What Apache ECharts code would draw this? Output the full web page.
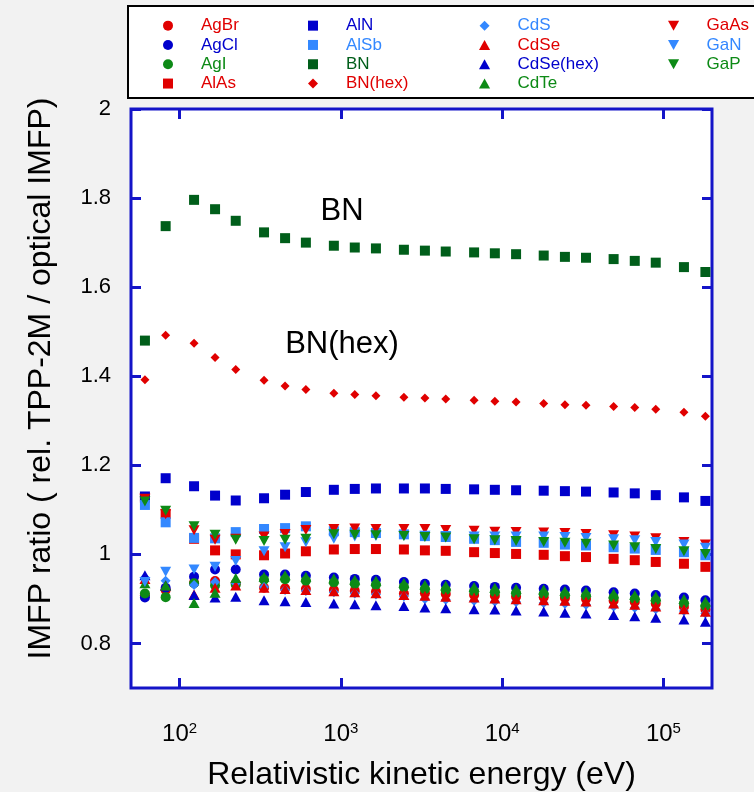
<!DOCTYPE html>
<html><head><meta charset="utf-8">
<script src="https://cdn.jsdelivr.net/npm/echarts@6/dist/echarts.min.js"></script>
<style>html,body{margin:0;padding:0;background:#f2f2f2}#c{width:754px;height:792px}</style>
</head><body><div id="c"></div>
<script>
// ---- data ----
const energy = [61, 82, 123, 166, 223, 334, 451, 607, 905, 1220, 1650, 2460, 3320, 4470, 6700, 9010, 12200, 18100, 24500, 33100, 49100, 66400, 89600, 134000, 182000];
const AgBr = [0.908, 0.920, 0.936, 0.940, 0.935, 0.925, 0.924, 0.922, 0.920, 0.918, 0.916, 0.912, 0.913, 0.911, 0.909, 0.907, 0.905, 0.904, 0.902, 0.900, 0.896, 0.893, 0.889, 0.882, 0.876];
const AgCl = [0.903, 0.925, 0.950, 0.966, 0.966, 0.955, 0.955, 0.952, 0.948, 0.945, 0.943, 0.938, 0.934, 0.932, 0.929, 0.927, 0.925, 0.923, 0.921, 0.919, 0.915, 0.912, 0.909, 0.903, 0.897];
const AgI = [0.912, 0.904, 0.935, 0.930, 0.932, 0.943, 0.944, 0.941, 0.937, 0.934, 0.932, 0.927, 0.922, 0.920, 0.917, 0.915, 0.913, 0.911, 0.909, 0.907, 0.903, 0.900, 0.897, 0.890, 0.884];
const AlAs = [1.127, 1.091, 1.035, 1.009, 1.000, 0.998, 1.002, 1.007, 1.011, 1.012, 1.012, 1.011, 1.009, 1.008, 1.005, 1.003, 1.001, 0.999, 0.996, 0.994, 0.990, 0.987, 0.983, 0.979, 0.972];
const AlN = [1.130, 1.171, 1.153, 1.132, 1.121, 1.126, 1.134, 1.140, 1.145, 1.147, 1.148, 1.148, 1.148, 1.147, 1.146, 1.145, 1.144, 1.143, 1.142, 1.141, 1.139, 1.137, 1.133, 1.128, 1.120];
const AlSb = [1.111, 1.072, 1.037, 1.036, 1.050, 1.057, 1.059, 1.063, 1.052, 1.050, 1.048, 1.045, 1.041, 1.039, 1.035, 1.032, 1.028, 1.026, 1.022, 1.020, 1.016, 1.013, 1.010, 1.005, 0.998];
const BN = [1.480, 1.737, 1.796, 1.775, 1.749, 1.723, 1.710, 1.700, 1.693, 1.689, 1.687, 1.684, 1.682, 1.680, 1.678, 1.676, 1.674, 1.671, 1.668, 1.666, 1.663, 1.659, 1.655, 1.645, 1.634];
const BNhex = [1.392, 1.492, 1.474, 1.442, 1.415, 1.391, 1.378, 1.370, 1.362, 1.359, 1.356, 1.353, 1.351, 1.349, 1.346, 1.344, 1.342, 1.339, 1.336, 1.335, 1.332, 1.330, 1.326, 1.319, 1.310];
const CdS = [0.948, 0.941, 0.931, 0.938, 0.935, 0.927, 0.920, 0.918, 0.915, 0.912, 0.910, 0.906, 0.900, 0.898, 0.896, 0.894, 0.893, 0.891, 0.889, 0.887, 0.883, 0.880, 0.877, 0.873, 0.867];
const CdSe = [0.945, 0.930, 0.910, 0.925, 0.930, 0.925, 0.922, 0.920, 0.917, 0.915, 0.913, 0.909, 0.907, 0.905, 0.903, 0.901, 0.899, 0.897, 0.896, 0.894, 0.890, 0.887, 0.883, 0.877, 0.871];
const CdSehex = [0.953, 0.930, 0.909, 0.903, 0.905, 0.897, 0.895, 0.893, 0.890, 0.888, 0.886, 0.884, 0.881, 0.879, 0.877, 0.876, 0.874, 0.872, 0.869, 0.867, 0.864, 0.861, 0.858, 0.854, 0.849];
const CdTe = [0.935, 0.930, 0.891, 0.914, 0.947, 0.950, 0.953, 0.950, 0.946, 0.943, 0.941, 0.936, 0.932, 0.930, 0.927, 0.925, 0.923, 0.921, 0.918, 0.916, 0.912, 0.909, 0.906, 0.900, 0.894];
const GaAs = [1.125, 1.090, 1.054, 1.033, 1.035, 1.040, 1.046, 1.055, 1.057, 1.058, 1.057, 1.057, 1.057, 1.055, 1.053, 1.051, 1.050, 1.049, 1.048, 1.046, 1.043, 1.040, 1.036, 1.028, 1.022];
const GaN = [0.938, 0.961, 0.966, 0.972, 0.985, 1.007, 1.016, 1.027, 1.035, 1.040, 1.041, 1.042, 1.042, 1.041, 1.040, 1.040, 1.040, 1.040, 1.039, 1.037, 1.034, 1.032, 1.028, 1.022, 1.015];
const GaP = [1.119, 1.098, 1.063, 1.044, 1.033, 1.030, 1.033, 1.035, 1.045, 1.044, 1.043, 1.041, 1.039, 1.038, 1.034, 1.032, 1.030, 1.028, 1.026, 1.024, 1.020, 1.016, 1.012, 1.007, 1.001];
const yTicks = [0.8, 1, 1.2, 1.4, 1.6, 1.8, 2];
const xTicks = [100, 1000, 10000, 100000];

// ---- styling ----
const RED = '#e00000', BLUE = '#0000cc', GREEN = '#0d8a16', DKGREEN = '#005e1a', LBLUE = '#3388ff';
const FRAME = '#1414c8';
const DOWN = 'path://M0,0L12,0L6,10Z';
const ICON = {
  circle: 'path://M5,0A5,5,0,1,1,5,10A5,5,0,1,1,5,0Z',
  rect: 'path://M0,0L10,0L10,10L0,10Z',
  diamond: 'path://M5,0L10,5L5,10L0,5Z',
  triangle: 'path://M5,0L10,9L0,9Z',
  down: 'path://M0,0L10,0L5,9Z'
};
const defs = [
  ['AgBr', AgBr, 'circle', 10, RED],
  ['AgCl', AgCl, 'circle', 10, BLUE],
  ['AgI', AgI, 'circle', 10, GREEN],
  ['AlAs', AlAs, 'rect', 10, RED],
  ['AlN', AlN, 'rect', 10, BLUE],
  ['AlSb', AlSb, 'rect', 10, LBLUE],
  ['BN', BN, 'rect', 10, DKGREEN],
  ['BN(hex)', BNhex, 'diamond', 9, RED],
  ['CdS', CdS, 'diamond', 10, LBLUE],
  ['CdSe', CdSe, 'triangle', [11, 10], RED],
  ['CdSe(hex)', CdSehex, 'triangle', [11, 10], BLUE],
  ['CdTe', CdTe, 'triangle', [11, 10], GREEN],
  ['GaAs', GaAs, 'down', [11, 10], RED],
  ['GaN', GaN, 'down', [11, 10], LBLUE],
  ['GaP', GaP, 'down', [11, 10], GREEN]
];
const info = {};
defs.forEach(d => info[d[0]] = d);

const series = defs.map(d => ({
  name: d[0], type: 'scatter',
  symbol: d[2] === 'down' ? DOWN : d[2],
  symbolSize: d[3],
  itemStyle: { color: d[4], opacity: 1 },
  emphasis: { disabled: true },
  silent: true,
  data: energy.map((e, i) => [e, d[1][i]])
}));

const cols = [['AgBr', 'AgCl', 'AgI', 'AlAs'], ['AlN', 'AlSb', 'BN', 'BN(hex)'], ['CdS', 'CdSe', 'CdSe(hex)', 'CdTe'], ['GaAs', 'GaN', 'GaP']];
const legLeft = [158, 303, 474, 663];
const legend = cols.map((names, k) => ({
  orient: 'vertical', left: legLeft[k], top: 11,
  itemWidth: 56, itemHeight: 10, itemGap: 0,
  selectedMode: false,
  textStyle: { fontSize: 17, lineHeight: 19.3, fontFamily: 'Liberation Sans' },
  data: names.map(n => ({ name: n, icon: ICON[info[n][2]], textStyle: { color: info[n][4] } }))
}));

const tickStyle = { show: true, inside: true, length: 10, lineStyle: { color: FRAME, width: 3 } };
const xBase = {
  type: 'log', logBase: 10, min: 50, max: 200000,
  axisLine: { show: false }, splitLine: { show: false }
};
const yBase = {
  type: 'value', min: 0.7, max: 2,
  axisLine: { show: false }, splitLine: { show: false }
};

const option = {
  animation: false,
  backgroundColor: '#f2f2f2',
  grid: { left: 131, right: 42, top: 109, bottom: 104, outerBoundsMode: 'none', containLabel: false, show: true, backgroundColor: '#ffffff', borderColor: FRAME, borderWidth: 3 },
  legend: legend,
  graphic: [
    { type: 'rect', left: 127, top: 5, z: -1, shape: { width: 700, height: 92 }, style: { fill: '#ffffff', stroke: '#000000', lineWidth: 2 } },
    { type: 'text', x: 342, y: 211, z: 10, style: { text: 'BN', fontSize: 31, fontFamily: 'Liberation Sans', fill: '#000', align: 'center', verticalAlign: 'middle' } },
    { type: 'text', x: 342, y: 344, z: 10, style: { text: 'BN(hex)', fontSize: 31, fontFamily: 'Liberation Sans', fill: '#000', align: 'center', verticalAlign: 'middle' } }
  ],
  xAxis: [
    Object.assign({}, xBase, {
      position: 'bottom',
      name: 'Relativistic kinetic energy (eV)', nameLocation: 'middle', nameGap: 71,
      nameTextStyle: { fontSize: 32, color: '#000', fontFamily: 'Liberation Sans' },
      axisTick: Object.assign({ customValues: xTicks }, tickStyle),
      axisLabel: {
        customValues: xTicks, margin: 33, color: '#000',
        formatter: v => '{b|10}{s|' + Math.round(Math.log10(v)) + '}',
        rich: {
          b: { fontSize: 24, lineHeight: 26, fontFamily: 'Liberation Sans', color: '#000' },
          s: { fontSize: 15, lineHeight: 15, fontFamily: 'Liberation Sans', color: '#000', verticalAlign: 'top' }
        }
      }
    }),
    Object.assign({}, xBase, {
      position: 'top',
      axisTick: Object.assign({ customValues: xTicks }, tickStyle),
      axisLabel: { show: false }
    })
  ],
  yAxis: [
    Object.assign({}, yBase, {
      position: 'left',
      name: 'IMFP ratio ( rel. TPP-2M / optical IMFP)', nameLocation: 'middle', nameGap: 74,
      nameTextStyle: { fontSize: 32, color: '#000', fontFamily: 'Liberation Sans', padding: [0, 0, 0, 40] },
      axisTick: Object.assign({ customValues: yTicks }, tickStyle),
      axisLabel: { customValues: yTicks, margin: 20, fontSize: 22, color: '#000', fontFamily: 'Liberation Sans' }
    }),
    Object.assign({}, yBase, {
      position: 'right',
      axisTick: Object.assign({ customValues: yTicks }, tickStyle),
      axisLabel: { show: false }
    })
  ],
  series: series
};
const chart = echarts.init(document.getElementById('c'), null, { renderer: 'canvas' });
chart.setOption(option);
</script>
</body></html>
